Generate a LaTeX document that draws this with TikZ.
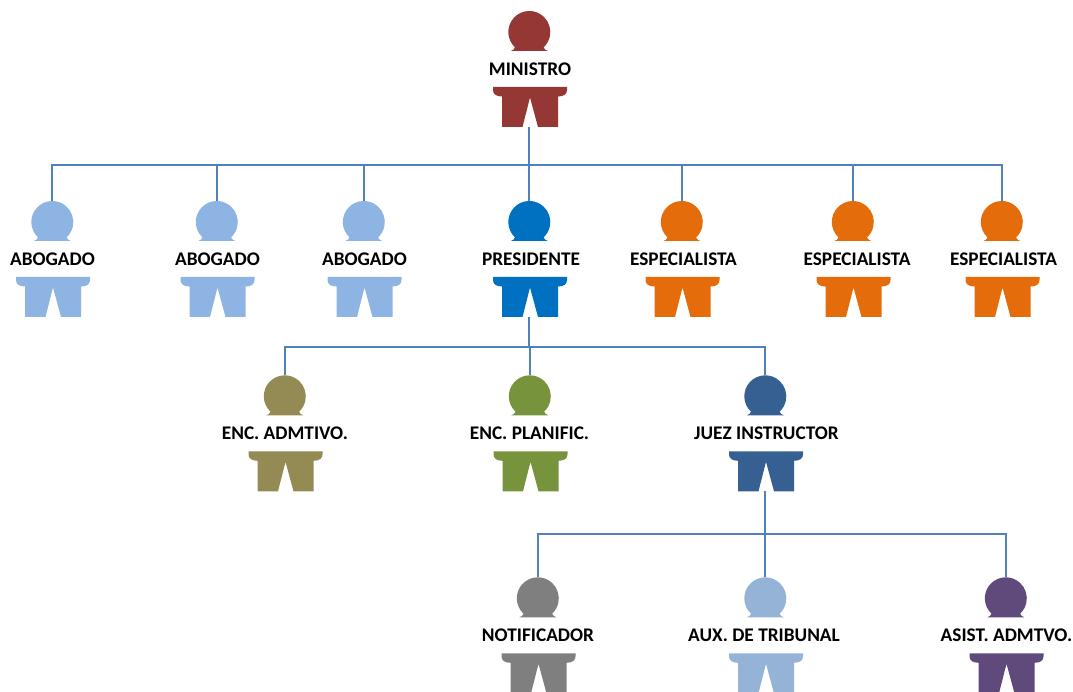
\documentclass[tikz,border=0pt]{standalone}
\usepackage{fontspec}
\setmainfont{Carlito}
\usepackage{xcolor}
\usepackage{tikz}
\usetikzlibrary{positioning,calc}
\pgfdeclarelayer{background}
\pgfsetlayers{background,main}
\definecolor{ministrored}{HTML}{953735}
\definecolor{abogadoblue}{HTML}{8EB4E3}
\definecolor{presidenteblue}{HTML}{0070C0}
\definecolor{especialistaorange}{HTML}{E46C0A}
\definecolor{admtivokhaki}{HTML}{948A54}
\definecolor{planificgreen}{HTML}{77933C}
\definecolor{juezblue}{HTML}{376092}
\definecolor{notifgray}{HTML}{7F7F7F}
\definecolor{auxblue}{HTML}{95B3D7}
\definecolor{asistpurple}{HTML}{604A7B}
\definecolor{linkblue}{HTML}{4F81BD}

\begin{document}
\begin{tikzpicture}[
      x=1pt, y=-1pt,
      head/.style = {
        circle, inner sep=0pt, minimum size=42pt,
      },
      role/.style = {
        inner sep=0pt, text=black,
        font=\fontsize{19.3pt}{22pt}\selectfont\bfseries,
      },
      connector/.style = {
        linkblue, line width=1.7pt,
      },
      pics/person/.style = {code = {
        \node[head] (-head) at (-0.7,21) {};
        \fill[#1] (-19.2,40) .. controls (-16.7,39.3) and (-15.7,38) .. (-15.02,36.36)
          arc[start angle=133, end angle=407, radius=21]
          .. controls (14.3,38) and (15.3,39.3) .. (17.8,40) -- cycle;
        \fill[#1] (-37,76) -- (37,76) -- (37,79)
          .. controls (37,83) and (34,85.5) .. (28,85.5)
          -- (28,116) -- (8,116) -- (0,86.5) -- (-7.5,116) -- (-28,116) -- (-28,85.5)
          .. controls (-34,85.5) and (-37,83) .. (-37,79) -- cycle;
        \coordinate (-feet) at (-0.7,116);
      }},
    ]
    \clip (0,0) rectangle (1073,692);

    \pic (ministro) at (530,11) {person=ministrored};
    \node[role] (ministrolabel) at (530,69.5) {MINISTRO};

    \pic (abogadoa) at (53,201) {person=abogadoblue};
    \node[role] (abogadoalabel) at (52.5,259.5) {ABOGADO};
    \pic (abogadob) at (217.5,201) {person=abogadoblue};
    \node[role] (abogadoblabel) at (217.5,259.5) {ABOGADO};
    \pic (abogadoc) at (364.5,201) {person=abogadoblue};
    \node[role] (abogadoclabel) at (364.5,259.5) {ABOGADO};
    \pic (presidente) at (530,201) {person=presidenteblue};
    \node[role] (presidentelabel) at (531,259.5) {PRESIDENTE};
    \pic (especialistaa) at (682.5,201) {person=especialistaorange};
    \node[role] (especialistaalabel) at (683.5,259.5) {ESPECIALISTA};
    \pic (especialistab) at (853.5,201) {person=especialistaorange};
    \node[role] (especialistablabel) at (857,259.5) {ESPECIALISTA};
    \pic (especialistac) at (1002.5,201) {person=especialistaorange};
    \node[role] (especialistaclabel) at (1003.5,259.5) {ESPECIALISTA};

    \pic (admtivo) at (285.5,375.3) {person=admtivokhaki};
    \node[role] (admtivolabel) at (285,433.5) {ENC. ADMTIVO.};
    \pic (planific) at (530.5,375.3) {person=planificgreen};
    \node[role] (planificlabel) at (529.5,433.5) {ENC. PLANIFIC.};
    \pic (juez) at (766,375.3) {person=juezblue};
    \node[role] (juezlabel) at (766.5,433.5) {JUEZ INSTRUCTOR};

    \pic (notificador) at (538.5,577.3) {person=notifgray};
    \node[role] (notificadorlabel) at (538,635.5) {NOTIFICADOR};
    \pic (auxiliar) at (766,577.3) {person=auxblue};
    \node[role] (auxiliarlabel) at (764,635.5) {AUX. DE TRIBUNAL};
    \pic (asistente) at (1006.5,577.3) {person=asistpurple};
    \node[role] (asistentelabel) at (1006.5,635.5) {ASIST. ADMTVO.};

    \coordinate (ministrobus) at (529.3,165);
    \coordinate (presidentebus) at (529.3,347);
    \coordinate (juezbus) at (765.3,534);
    \begin{pgfonlayer}{background}
      \draw[connector] (ministro-feet) -- (ministrobus);
      \draw[connector] (ministrobus) -| (abogadoa-head);
      \draw[connector] (ministrobus) -| (abogadob-head);
      \draw[connector] (ministrobus) -| (abogadoc-head);
      \draw[connector] (ministrobus) -- (presidente-head);
      \draw[connector] (ministrobus) -| (especialistaa-head);
      \draw[connector] (ministrobus) -| (especialistab-head);
      \draw[connector] (ministrobus) -| (especialistac-head);
      \draw[connector] (presidente-feet) -- (presidentebus);
      \draw[connector] (presidentebus) -| (admtivo-head);
      \draw[connector] (presidentebus) -| (planific-head);
      \draw[connector] (presidentebus) -| (juez-head);
      \draw[connector] (juez-feet) -- (juezbus);
      \draw[connector] (juezbus) -| (notificador-head);
      \draw[connector] (juezbus) -- (auxiliar-head);
      \draw[connector] (juezbus) -| (asistente-head);
    \end{pgfonlayer}
  \end{tikzpicture}
\end{document}
